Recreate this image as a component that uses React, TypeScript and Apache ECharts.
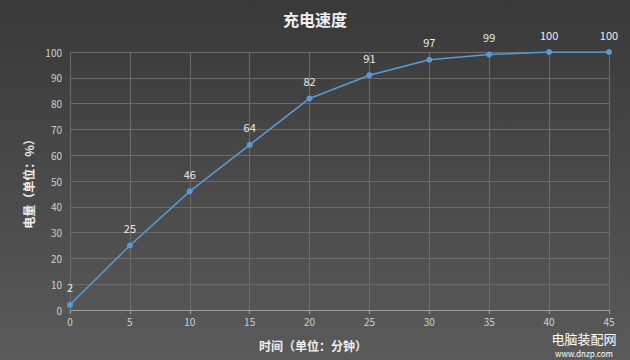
import React, { useEffect, useRef } from "react";
import * as echarts from "echarts";

const minutes = [0, 5, 10, 15, 20, 25, 30, 35, 40, 45];
const charge = [2, 25, 46, 64, 82, 91, 97, 99, 100, 100];
const titleText = "充电速度";
const xName = "时间（单位：分钟）";
const yName = "电量（单位：%）";

export default function App() {
  const ref = useRef<HTMLDivElement>(null);
  useEffect(() => {
    if (!ref.current) return;
    const chart = echarts.init(ref.current, null, { renderer: "svg" });
    const font = "'Noto Sans CJK SC', 'Noto Sans', sans-serif";
    chart.setOption({
      animation: false,
      backgroundColor: {
        type: "linear", x: 0, y: 0, x2: 0, y2: 1,
        colorStops: [
          { offset: 0, color: "#393939" },
          { offset: 1, color: "#5a5a5a" },
        ],
      },
      title: {
        text: titleText,
        left: "center",
        top: 6,
        textStyle: { color: "#f0f0f0", fontSize: 16, fontWeight: "bold", fontFamily: font },
      },
      grid: { left: 70, right: 21, top: 52, bottom: 50 },
      xAxis: {
        type: "value",
        min: 0,
        max: 45,
        interval: 5,
        axisLine: { show: true, lineStyle: { color: "#a0a0a0", width: 1 } },
        axisTick: { show: true, length: 4, lineStyle: { color: "#a0a0a0" } },
        axisLabel: { color: "#d0d0d0", fontSize: 10, margin: 6, fontFamily: font },
        splitLine: { show: true, lineStyle: { color: "#6c6c6c", width: 1 } },
      },
      yAxis: {
        type: "value",
        min: 0,
        max: 100,
        interval: 10,
        name: yName,
        nameLocation: "middle",
        nameGap: 34,
        nameRotate: 90,
        nameTextStyle: { color: "#f0f0f0", fontSize: 12, fontWeight: "bold", fontFamily: font },
        axisLine: { show: false },
        axisTick: { show: false },
        axisLabel: { color: "#d0d0d0", fontSize: 10, margin: 8, fontFamily: font },
        splitLine: { show: true, lineStyle: { color: "#6c6c6c", width: 1 } },
      },
      series: [
        {
          type: "line",
          data: minutes.map((m, i) => [m, charge[i]]),
          symbol: "circle",
          symbolSize: 6,
          lineStyle: { color: "#5a9ad8", width: 1.5 },
          itemStyle: { color: "#5a9ad8" },
          label: {
            show: true,
            position: "top",
            distance: 9,
            color: "#ececec",
            fontSize: 11,
            fontFamily: font,
          },
        },
      ],
      graphic: [
        {
          type: "text",
          x: 313,
          y: 345,
          style: {
            text: xName,
            fill: "#f0f0f0",
            font: `bold 12px ${font}`,
            textAlign: "center",
            textVerticalAlign: "middle",
          },
        },
        {
          type: "text",
          x: 584,
          y: 338,
          style: {
            text: "电脑装配网",
            fill: "#ffffff",
            font: `13px ${font}`,
            lineHeight: 14,
            textAlign: "center",
            textVerticalAlign: "middle",
            shadowColor: "rgba(0,0,0,0.6)",
            shadowBlur: 2,
          },
        },
        {
          type: "text",
          x: 584,
          y: 353,
          style: {
            text: "www.dnzp.com",
            fill: "#ffffff",
            font: `8px ${font}`,
            lineHeight: 9,
            textAlign: "center",
            textVerticalAlign: "middle",
          },
        },
      ],
    });
    return () => chart.dispose();
  }, []);
  return <div ref={ref} style={{ width: 630, height: 360, position: "absolute", left: 0, top: 0 }} />;
}
